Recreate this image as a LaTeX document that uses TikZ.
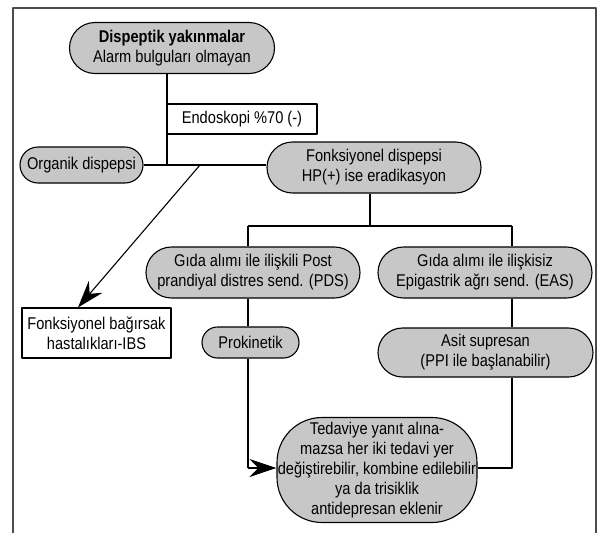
\documentclass[tikz,border=0pt]{standalone}
\usepackage{fontspec}
\setmainfont{Liberation Sans}[FakeStretch=0.86]
\usetikzlibrary{shapes.misc,arrows.meta}
\tikzset{
  pill/.style={draw,fill=black!22,rounded rectangle,align=center,inner sep=0pt},
  plainbox/.style={draw,fill=white,rectangle,align=center,inner sep=0pt},
  arr/.style={-{Stealth[length=27pt,width=18pt,inset=9pt]}}
}
\begin{document}
\begin{tikzpicture}[x=1pt,y=-1pt,line width=1.1pt,line join=round,
  every node/.style={font=\fontsize{17}{20}\selectfont}]
\useasboundingbox (0,0) rectangle (598,533);
\draw[line width=1.6pt,black!70] (13,533) -- (13,8) -- (596,8) -- (596,533);
\node[pill,minimum width=205pt,minimum height=51pt] (top) at (172,48)
  {\textbf{Dispeptik yakınmalar}\\Alarm bulguları olmayan};
\node[plainbox,minimum width=150pt,minimum height=30pt] (endo) at (242,119) {Endoskopi \%70 (-)};
\node[pill,minimum width=123pt,minimum height=36pt] (org) at (81.5,165) {Organik dispepsi};
\node[pill,minimum width=214pt,minimum height=51pt] (fonk) at (374,167.5)
  {Fonksiyonel dispepsi\\HP(+) ise eradikasyon};
\node[plainbox,minimum width=149pt,minimum height=50pt] (ibs) at (96.5,333)
  {Fonksiyonel bağırsak\\hastalıkları-IBS};
\node[pill,minimum width=214pt,minimum height=51pt] (pds) at (253,272.5)
  {Gıda alımı ile ilişkili Post\\prandiyal distres send. (PDS)};
\node[pill,minimum width=214pt,minimum height=51pt] (eas) at (485,272.5)
  {Gıda alımı ile ilişkisiz\\Epigastrik ağrı send. (EAS)};
\node[pill,minimum width=97pt,minimum height=31pt] (prok) at (250.5,342.5) {Prokinetik};
\node[pill,minimum width=215pt,minimum height=49pt] (asit) at (485.5,352.5)
  {Asit supresan\\(PPI ile başlanabilir)};
\node[draw,fill=black!22,rounded corners=45pt,align=center,inner sep=0pt,
  minimum width=200pt,minimum height=105pt] (ted) at (377,470)
  {Tedaviye yanıt alına-\\mazsa her iki tedavi yer\\değiştirebilir, kombine edilebilir\\ya da trisiklik\\antidepresan eklenir};
\coordinate (j1) at (167,165);
\coordinate (j2) at (200,165);
\coordinate (j3) at (370,226);
\coordinate (jl) at (248,468);
\coordinate (jr) at (512,468);
\draw (top.south -| j1) -- (j1)
  (org.east) -- (org.east -| fonk.west)
  (fonk.south -| j3) -- (j3)
  (j3 -| jl) -- (j3 -| jr)
  (j3 -| jl) -- (pds.north -| jl)
  (pds.south -| jl) -- (prok.north -| jl)
  (prok.south -| jl) -- (jl)
  (j3 -| jr) -- (eas.north -| jr)
  (eas.south -| jr) -- (asit.north -| jr)
  (asit.south -| jr) -- (jr) -- (ted.east |- jr);
\draw[arr] (j2) -- ([xshift=-18.5pt]ibs.north);
\draw[arr] (jl) -- (ted.west |- jl);
\end{tikzpicture}
\end{document}
